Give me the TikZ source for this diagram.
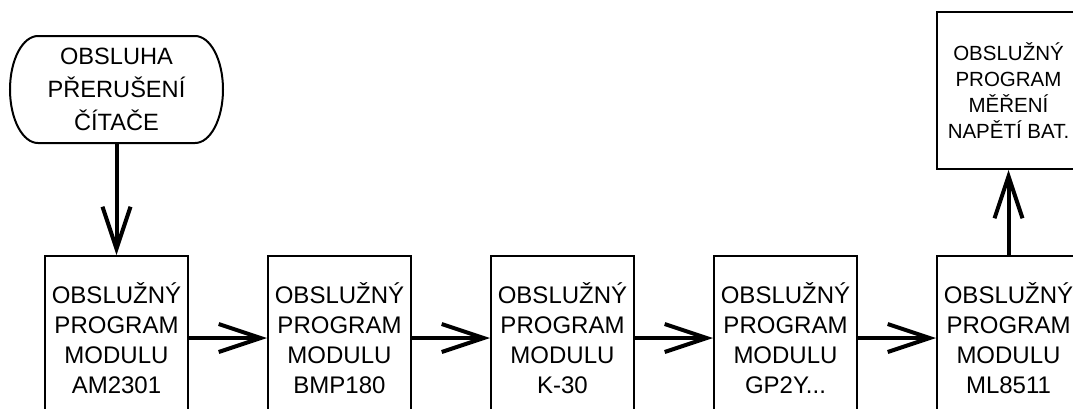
\documentclass[tikz,border=0pt]{standalone}
\usepackage{fontspec}
\setmainfont{Liberation Sans}
\usetikzlibrary{positioning,arrows.meta}

\begin{document}
\begin{tikzpicture}[node distance=39pt,
  modul/.style={draw,line width=1pt,minimum width=71.5pt,minimum height=82pt,inner sep=0pt,align=center,font=\fontsize{12}{15}\selectfont},
  obsl/.style={modul,minimum height=78.5pt,font=\fontsize{10.25}{13}\selectfont},
  start/.style={outer sep=0pt,minimum width=106.5pt,minimum height=53.5pt,inner sep=0pt,align=center,font=\fontsize{11.8}{16.5}\selectfont},
  sipka/.style={line width=2pt,-{Straight Barb[length=21pt,width=14pt]}}]
\useasboundingbox (0,0) rectangle (536.5pt,-204pt);
\node[modul] (am) at (58.25pt,-169pt) {OBSLUŽNÝ\\PROGRAM\\MODULU\\AM2301};
\node[modul,right=of am] (bmp) {OBSLUŽNÝ\\PROGRAM\\MODULU\\BMP180};
\node[modul,right=of bmp] (k30) {OBSLUŽNÝ\\PROGRAM\\MODULU\\K-30};
\node[modul,right=of k30] (gp) {OBSLUŽNÝ\\PROGRAM\\MODULU\\GP2Y...};
\node[modul,right=of gp] (ml) {OBSLUŽNÝ\\PROGRAM\\MODULU\\ML8511};
\node[obsl,above=42.5pt of ml] (bat) {OBSLUŽNÝ\\PROGRAM\\MĚŘENÍ\\NAPĚTÍ BAT.};
\node[start,above=56pt of am] (prer) {OBSLUHA\\PŘERUŠENÍ\\ČÍTAČE};
% ovalny ramecek
\draw[line width=1pt] ([xshift=14pt]prer.north west) -- ([xshift=-14pt]prer.north east)
  arc[start angle=90,end angle=-90,x radius=14pt,y radius=26.75pt]
  -- ([xshift=14pt]prer.south west)
  arc[start angle=270,end angle=90,x radius=14pt,y radius=26.75pt] -- cycle;
% sipky
\draw[sipka] (prer) -- (am);
\draw[sipka] (am) -- (bmp);
\draw[sipka] (bmp) -- (k30);
\draw[sipka] (k30) -- (gp);
\draw[sipka] (gp) -- (ml);
\draw[sipka] (ml) -- (bat);
\end{tikzpicture}
\end{document}
